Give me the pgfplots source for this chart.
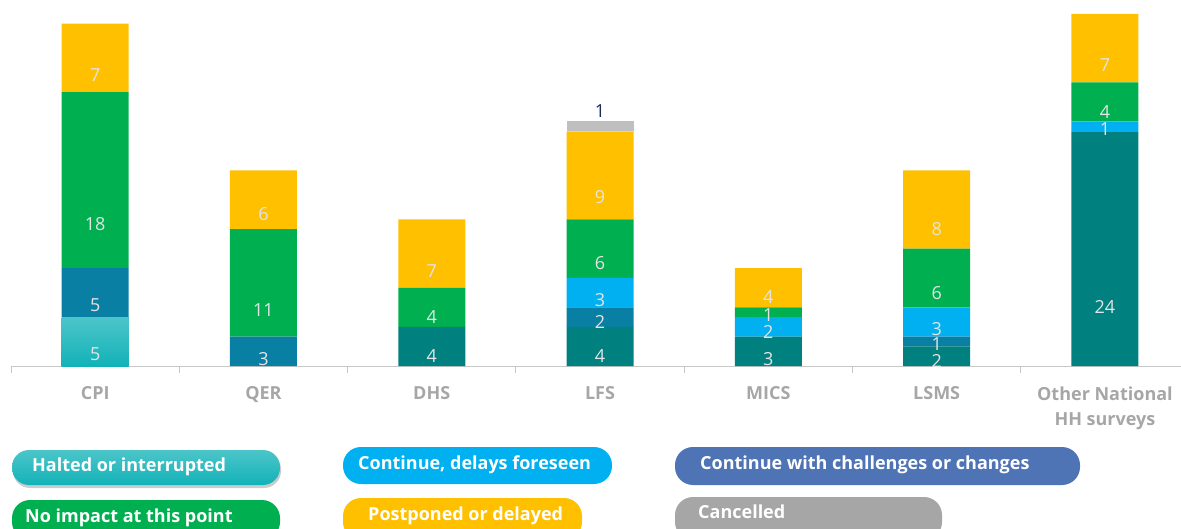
\documentclass[border=0pt]{standalone}
\usepackage{fontspec}
\setmainfont{Open Sans}
\usepackage{pgfplots}
\usepackage{pgfplotstable}
\pgfplotsset{compat=1.18}

\definecolor{halted}{HTML}{12B2B8}
\definecolor{haltedtop}{HTML}{4CC5C9}
\definecolor{tealdark}{HTML}{00807F}
\definecolor{blueteal}{HTML}{0A7FA4}
\definecolor{lightblue}{HTML}{00B0F0}
\definecolor{cgreen}{HTML}{00B050}
\definecolor{cyellow}{HTML}{FFC000}
\definecolor{cgrey}{HTML}{BFBFBF}
\definecolor{legslate}{HTML}{4F74B6}
\definecolor{leggrey}{HTML}{A6A6A6}
\definecolor{axisgrey}{HTML}{C8C8C8}
\definecolor{catgrey}{HTML}{A6A6A6}
\definecolor{lbl}{HTML}{E4E4E4}
\definecolor{navy}{HTML}{1F2A5C}

% stacked segments, bottom to top
\pgfplotstableread{
x halted tealdark blueteal lightblue cgreen cyellow cgrey
0 5 0  5 0 18 7 0
1 0 0  3 0 11 6 0
2 0 4  0 0 4  7 0
3 0 4  2 3 6  9 1
4 0 3  0 2 1  4 0
5 0 2  1 3 6  8 0
6 0 24 0 1 4  7 0
}\data

\begin{document}
\begin{tikzpicture}
\path[use as bounding box] (0,0) rectangle (1181pt,528pt);
\begin{axis}[
  at={(11pt,162pt)}, anchor=south west,
  x=168.3pt, y=9.781pt,
  xmin=-0.5, xmax=6.452, ymin=0, ymax=37.42,
  enlargelimits=false, clip=false,
  ybar stacked, bar width=67pt,
  axis x line=bottom, axis y line=none,
  axis line style={-, draw=axisgrey, line width=1pt},
  xtick={0,...,6}, major tick length=0pt,
  major tick style={draw=none},
  minor xtick={-0.5,0.5,1.5,2.5,3.5,4.5,5.5},
  minor tick length=7pt, tick align=outside,
  minor tick style={draw=axisgrey, line width=1pt},
  xticklabels={CPI,QER,DHS,LFS,MICS,LSMS,{Other National\\HH surveys}},
  xticklabel style={font=\bfseries\fontsize{18}{25}\selectfont,
    text=catgrey, align=center, anchor=north, yshift=-17pt},
  /pgf/number format/assume math mode=true,
  seg/.style={fill=#1, draw=none,
    visualization depends on={\thisrow{#1} \as \rawv},
    nodes near coords={\ifdim\rawv pt<0.5pt\else\pgfmathprintnumber{\rawv}\fi},
    every node near coord/.append style={anchor=center,
      yshift={-\rawv*2.445pt}, text=lbl,
      font=\fontsize{18}{20}\selectfont}},
]
\addplot[seg=halted, top color=haltedtop, bottom color=halted] table[x=x,y=halted]{\data};
\addplot[seg=tealdark] table[x=x,y=tealdark]{\data};
\addplot[seg=blueteal] table[x=x,y=blueteal]{\data};
\addplot[seg=lightblue] table[x=x,y=lightblue]{\data};
\addplot[seg=cgreen] table[x=x,y=cgreen]{\data};
\addplot[seg=cyellow] table[x=x,y=cyellow]{\data};
\addplot[fill=cgrey, draw=none,
  visualization depends on={\thisrow{cgrey} \as \rawv},
  nodes near coords={\ifdim\rawv pt<0.5pt\else\raisebox{9pt}[0pt][0pt]{\pgfmathprintnumber{\rawv}}\fi},
  every node near coord/.style={anchor=center, text=navy,
    inner sep=2pt, font=\fontsize{18}{20}\selectfont}]
  table[x=x,y=cgrey]{\data};
\end{axis}

% legend pills
\begin{scope}[every node/.style={anchor=west, inner sep=0pt, text=white,
    font=\bfseries\fontsize{18}{20}\selectfont}]
\fill[black!20, rounded corners=17pt] (13pt,40pt) rectangle (281pt,76pt);
\shade[top color=haltedtop, bottom color=halted, rounded corners=17pt]
  (12pt,43pt) rectangle (280pt,78pt);
\node at (32pt,61pt) {Halted or interrupted};
\fill[lightblue, rounded corners=18pt] (343pt,44pt) rectangle (612pt,81pt);
\node at (358pt,63pt) {Continue, delays foreseen};
\fill[legslate, rounded corners=18pt] (675pt,43pt) rectangle (1080pt,81pt);
\node at (700pt,63pt) {Continue with challenges or changes};
\fill[cgreen, rounded corners=18pt] (12pt,-12pt) rectangle (280pt,28pt);
\node at (25pt,10pt) {No impact at this point};
\fill[cyellow, rounded corners=18pt] (343pt,-12pt) rectangle (582pt,30pt);
\node at (368pt,12pt) {Postponed or delayed};
\fill[leggrey, rounded corners=18pt] (675pt,-12pt) rectangle (942pt,31pt);
\node at (698pt,16pt) {Cancelled};
\end{scope}
\end{tikzpicture}
\end{document}
